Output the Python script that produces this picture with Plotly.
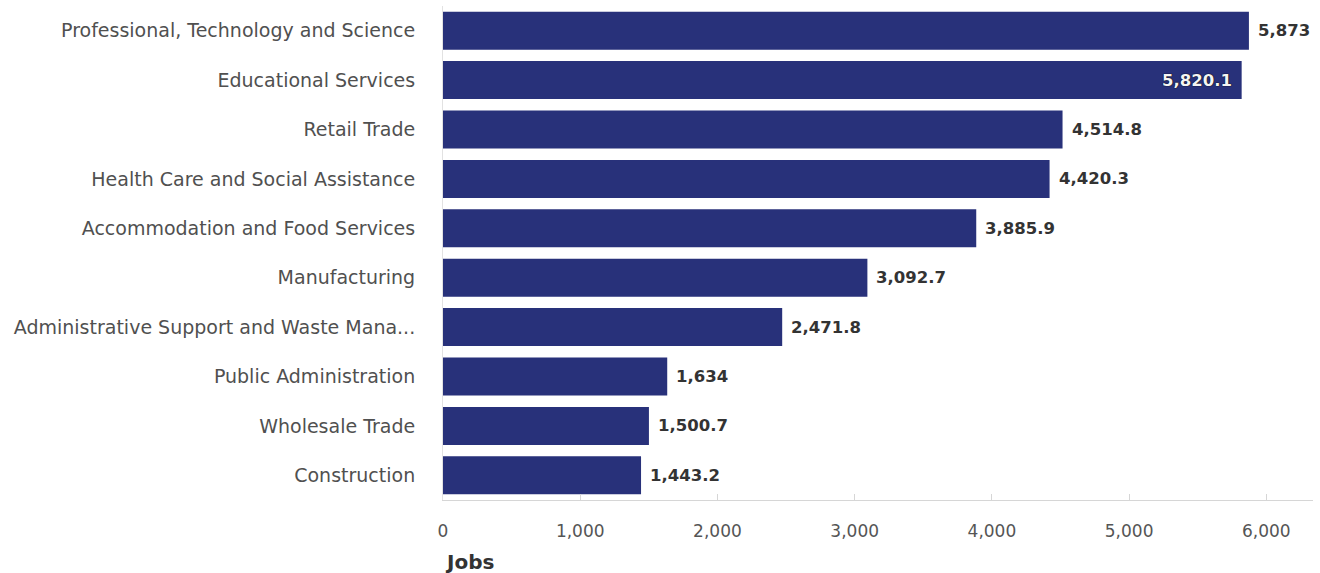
import plotly.graph_objects as go

# Jobs by industry sector
industries = [
    "Professional, Technology and Science",
    "Educational Services",
    "Retail Trade",
    "Health Care and Social Assistance",
    "Accommodation and Food Services",
    "Manufacturing",
    "Administrative Support and Waste Mana...",
    "Public Administration",
    "Wholesale Trade",
    "Construction",
]
jobs = [5873, 5820.1, 4514.8, 4420.3, 3885.9, 3092.7, 2471.8, 1634, 1500.7, 1443.2]
tick_vals = [0, 1000, 2000, 3000, 4000, 5000, 6000]
tick_text = ["0", "1,000", "2,000", "3,000", "4,000", "5,000", "6,000"]

BAR = "#28317a"
FONT = "'DejaVu Sans', sans-serif"


def fmt(v):
    s = f"{v:,.1f}"
    return s[:-2] if s.endswith(".0") else s


labels = [fmt(v) for v in jobs]
inside = [i == 1 for i in range(len(jobs))]

fig = go.Figure(
    go.Bar(
        x=jobs,
        y=industries,
        orientation="h",
        marker=dict(color=BAR, line=dict(width=0)),
        hoverinfo="skip",
    )
)

# value labels: after the bar end, or just inside it where space runs out
for name, v, lab, ins in zip(industries, jobs, labels, inside):
    fig.add_annotation(
        x=v,
        y=name,
        text=f"<b>{lab}</b>",
        showarrow=False,
        xanchor="right" if ins else "left",
        xshift=-8 if ins else 7,
        font=dict(
            family=FONT,
            size=16.5,
            color="#f4f4f4" if ins else "#333333",
            shadow="0 0 1px #000, 0 0 1px #000" if ins else "none",
        ),
    )

fig.add_annotation(
    x=0,
    y=0,
    xref="paper",
    yref="paper",
    text="<b>Jobs</b>",
    showarrow=False,
    xanchor="left",
    yanchor="middle",
    yshift=-62,
    font=dict(family=FONT, size=20, color="#333333"),
)

fig.update_layout(
    width=1320,
    height=573,
    margin=dict(l=443, r=7, t=6, b=73),
    paper_bgcolor="white",
    plot_bgcolor="white",
    bargap=0.23,
    showlegend=False,
    font=dict(family=FONT, size=19, color="#505050"),
    xaxis=dict(
        range=[0, 6340],
        tickvals=tick_vals,
        ticktext=tick_text,
        showgrid=False,
        zeroline=False,
        showline=True,
        linecolor="#d6d6d6",
        linewidth=1,
        ticks="inside",
        ticklen=6,
        tickcolor="#d6d6d6",
        ticklabelstandoff=16,
        tickfont=dict(size=17, color="#555555"),
    ),
    yaxis=dict(
        autorange="reversed",
        showgrid=False,
        zeroline=False,
        showline=True,
        linecolor="#e2e2e2",
        linewidth=1,
        ticks="",
        ticklabelstandoff=23,
        tickfont=dict(size=19, color="#505050"),
    ),
)

fig.write_html("out.html")
